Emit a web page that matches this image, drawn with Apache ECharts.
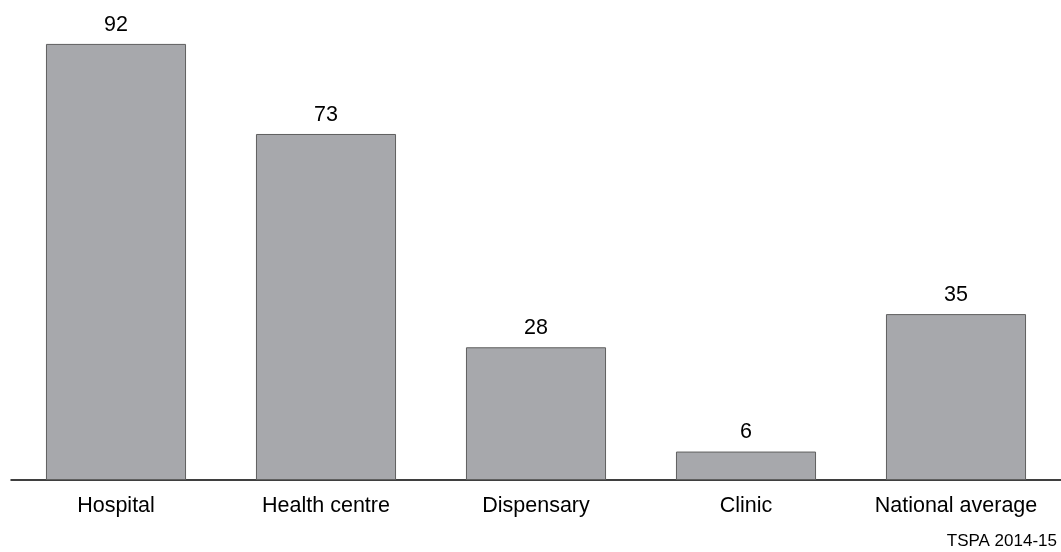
<!DOCTYPE html>
<html>
<head>
<meta charset="utf-8">
<script src="https://cdn.jsdelivr.net/npm/echarts@6/dist/echarts.min.js"></script>
<style>
  html, body { margin: 0; padding: 0; background: #fff; }
  #chart { width: 1061px; height: 552px; }
</style>
</head>
<body>
<div id="chart"></div>
<script>
// data
const categories = ["Hospital", "Health centre", "Dispensary", "Clinic", "National average"];
const values = [92, 73, 28, 6, 35];
const sourceNote = "TSPA 2014-15";

const chart = echarts.init(document.getElementById("chart"), null, { renderer: "canvas" });
chart.setOption({
  animation: false,
  textStyle: { fontFamily: "Liberation Sans, Arial, sans-serif" },
  grid: {
    left: 11,
    right: 0,
    top: 6,
    bottom: 72,
    containLabel: false,
  },
  graphic: [
    {
      type: "text",
      right: 4,
      bottom: 2,
      style: {
        text: sourceNote,
        fill: "#000",
        font: "17px Liberation Sans, Arial, sans-serif",
      },
    },
  ],
  xAxis: {
    type: "category",
    data: categories,
    axisLine: { show: true, lineStyle: { color: "#000", width: 1.5 } },
    axisTick: { show: false },
    axisLabel: {
      color: "#000",
      fontSize: 21.5,
      margin: 15,
      interval: 0,
    },
  },
  yAxis: {
    type: "value",
    min: 0,
    max: 100,
    show: false,
    splitLine: { show: false },
  },
  series: [
    {
      type: "bar",
      data: values,
      barWidth: "66.7%",
      itemStyle: {
        color: "#a7a8ac",
        borderColor: "#5f5f5f",
        borderWidth: 1,
      },
      label: {
        show: true,
        position: "top",
        distance: 8,
        color: "#000",
        fontSize: 21.5,
      },
    },
  ],
});
</script>
</body>
</html>
